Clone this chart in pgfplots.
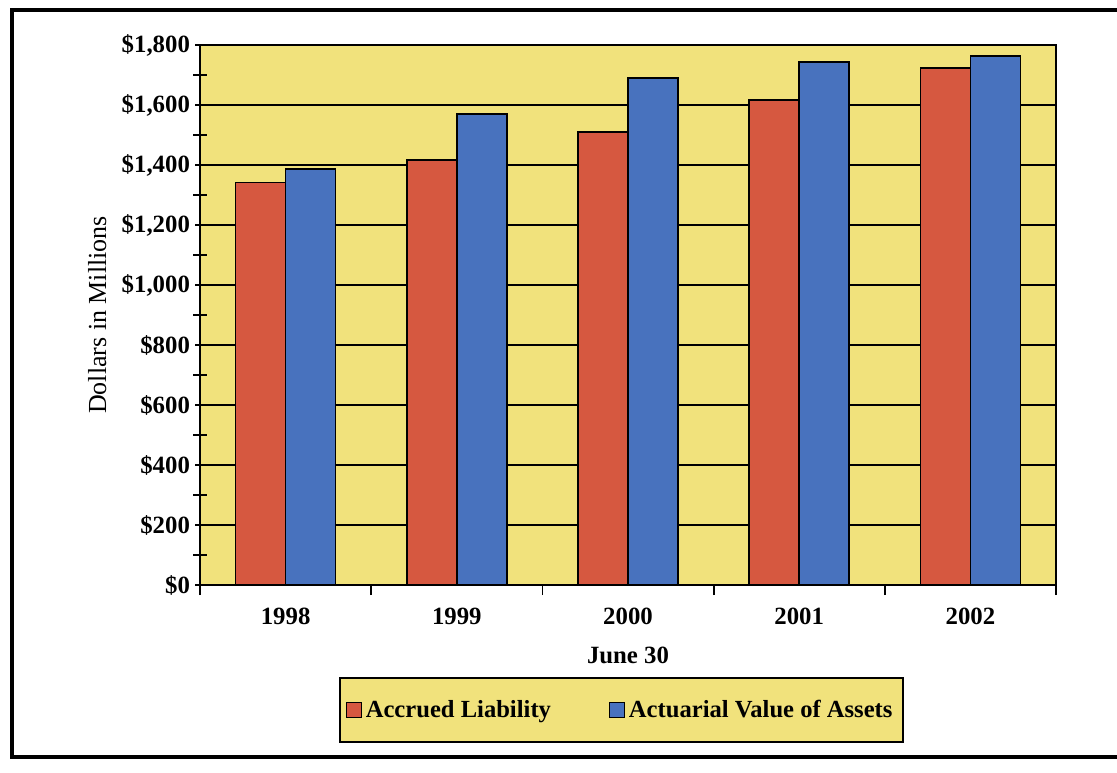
\documentclass[border=0pt]{standalone}
\usepackage{pgfplots}
\pgfplotsset{compat=1.18}
\usepackage{fontspec}
\setmainfont{Liberation Serif}
\definecolor{plotyellow}{RGB}{241,226,124}
\definecolor{barred}{RGB}{214,88,64}
\definecolor{barblue}{RGB}{72,114,190}
\begin{document}
\begin{tikzpicture}
\begin{axis}[
  at={(100pt,93.5pt)}, anchor=south west,
  width=428pt, height=270pt, scale only axis,
  axis background/.style={fill=plotyellow},
  axis line style={black, line width=0.9pt},
  xmin=-0.5, xmax=4.5,
  ymin=0, ymax=1800,
  ytick={0,200,...,1800},
  minor y tick num=1,
  yticklabels={\$0,\$200,\$400,\$600,\$800,\$1{,}000,\$1{,}200,\$1{,}400,\$1{,}600,\$1{,}800},
  yticklabel style={font=\bfseries\fontsize{12.4}{13}\selectfont, xshift=1pt},
  ymajorgrids,
  grid style={black, line width=0.9pt},
  xtick={-0.5,0.5,1.5,2.5,3.5,4.5},
  xticklabels={1998,1999,2000,2001,2002},
  x tick label as interval,
  xticklabel style={font=\bfseries\fontsize{12.4}{13}\selectfont, yshift=-3pt},
  xtick align=outside,
  ytick align=center,
  major tick length=5pt,
  minor tick length=7pt,
  tick style={black, line width=0.9pt},
  xtick pos=bottom, ytick pos=left,
  xlabel={June 30},
  xlabel style={font=\bfseries\fontsize{12.4}{13}\selectfont, at={(axis description cs:0.5,0)}, anchor=center, yshift=-35pt},
  ylabel={Dollars in Millions},
  ylabel style={font=\fontsize{13}{14}\selectfont, at={(axis description cs:-0.12,0.5)}, anchor=center},
  ybar, bar width=0.292,
  legend style={at={(axis description cs:0.492,0)}, anchor=center, yshift=-62.5pt,
    fill=plotyellow, draw=black, line width=1pt,
    font=\bfseries\fontsize{12.3}{13}\selectfont,
    inner xsep=3pt, inner ysep=9pt,
    /tikz/every even column/.append style={column sep=27pt}},
  legend columns=2,
  legend image code/.code={\draw[#1, line width=0.6pt] (0pt,-3.7pt) rectangle (7.4pt,3.7pt);},
]
\addplot[fill=barred, draw=black, line width=0.8pt, bar shift=-0.146] coordinates {(0,1341) (1,1417) (2,1509) (3,1617) (4,1724)};
\addplot[fill=barblue, draw=black, line width=0.8pt, bar shift=0.146] coordinates {(0,1387) (1,1569) (2,1690) (3,1744) (4,1763)};
\legend{Accrued Liability, Actuarial Value of Assets}
\end{axis}
\draw[black, line width=2pt] (575pt,381pt) -- (6pt,381pt) -- (6pt,7.5pt) -- (575pt,7.5pt);
\pgfresetboundingbox
\path[use as bounding box] (0,0) rectangle (558.5pt,386pt);
\end{tikzpicture}
\end{document}
